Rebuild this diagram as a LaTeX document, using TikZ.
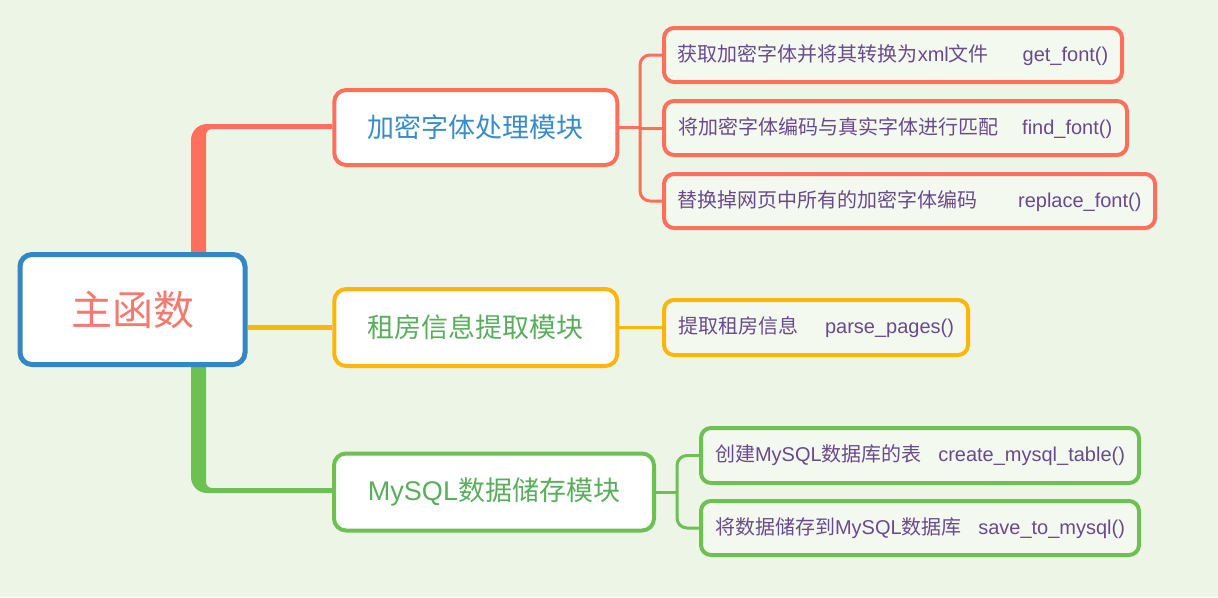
\documentclass[tikz,border=0pt]{standalone}
\usepackage{fontspec}
\setmainfont{Liberation Sans}
\newfontfamily\cjk{Noto Sans CJK SC}
\usetikzlibrary{calc}
\definecolor{bg}{HTML}{EDF5E7}
\definecolor{cRed}{HTML}{FF6F5C}
\definecolor{cBlue}{HTML}{3486C4}
\definecolor{cOrange}{HTML}{FFB50A}
\definecolor{cGreen}{HTML}{6CC152}
\definecolor{tBlue}{HTML}{3A8CC8}
\definecolor{tGreen}{HTML}{5BAD5E}
\definecolor{tRoot}{HTML}{F47A70}
\definecolor{tPurple}{HTML}{6A4A8E}
\definecolor{leafbg}{HTML}{F4F9EF}
\pgfdeclarelayer{back}
\pgfdeclarelayer{edges}
\pgfsetlayers{back,edges,main}
\begin{document}
\begin{tikzpicture}[x=1pt,y=-1pt,
  box/.style={draw, rounded corners=12pt, fill=white, line width=4pt, inner sep=0pt},
  rootbox/.style={box, draw=cBlue, line width=5pt, font=\cjk\fontsize{41}{41}\selectfont, text=tRoot},
  midbox/.style={box, font=\fontsize{27}{27}\selectfont},
  leaf/.style={draw, rounded corners=10pt, fill=leafbg, line width=4pt, inner sep=0pt, font=\fontsize{20}{20}\selectfont, text=tPurple},
  redleaf/.style={leaf, draw=cRed},
  orangeleaf/.style={leaf, draw=cOrange},
  greenleaf/.style={leaf, draw=cGreen},
  thin/.style={line width=3pt},
]
\useasboundingbox (0,0) rectangle (1218,597);
\begin{pgfonlayer}{back}
\fill[bg] (0,0) rectangle (1218,597);
\end{pgfonlayer}

% root
\node[rootbox, minimum width=225pt, minimum height=110pt] (root) at (132.5,309.5) {主函数};

% level 1
\node[midbox, draw=cRed, text=tBlue, minimum width=283pt, minimum height=75pt] (a) at (475.75,127.5) {\cjk 加密字体处理模块};
\node[midbox, draw=cOrange, text=tGreen, minimum width=283pt, minimum height=77pt] (b) at (475.75,327.5) {\cjk 租房信息提取模块};
\node[midbox, draw=cGreen, text=tGreen, minimum width=320pt, minimum height=77pt] (c) at (494,492) {MySQL{\cjk 数据储存模块}};

% leaves
\node[redleaf, minimum width=458pt, minimum height=54pt] (l1) at (893,55) {\makebox[430.5pt]{{\cjk 获取加密字体并将其转换为}xml{\cjk 文件}\hfill get\_font()}};
\node[redleaf, minimum width=463pt, minimum height=54pt] (l2) at (895.5,128) {\makebox[433.5pt]{{\cjk 将加密字体编码与真实字体进行匹配}\hfill find\_font()}};
\node[redleaf, minimum width=491pt, minimum height=54pt] (l3) at (909.5,201) {\makebox[464pt]{{\cjk 替换掉网页中所有的加密字体编码}\hfill replace\_font()}};
\node[orangeleaf, minimum width=304pt, minimum height=55pt] (l4) at (816,327.5) {\makebox[276pt]{{\cjk 提取租房信息}\hfill parse\_pages()}};
\node[greenleaf, minimum width=438pt, minimum height=55pt] (l5) at (920,455.5) {\makebox[410pt]{{\cjk 创建}MySQL{\cjk 数据库的表}\hfill create\_mysql\_table()}};
\node[greenleaf, minimum width=438pt, minimum height=54pt] (l6) at (920,528) {\makebox[410pt]{{\cjk 将数据储存到}MySQL{\cjk 数据库}\hfill save\_to\_mysql()}};

\coordinate (ja) at (640,127.5);
\coordinate (jc) at (677,492);

\begin{pgfonlayer}{edges}
% root -> a (tapered branch)
\fill[cRed] ([xshift=58.5pt]root.north) -- (191,140) .. controls (191,131.2) and (198.2,124) .. (207,124)
  -- (a.west |- 0,124) -- (a.west |- 0,129) -- (212,129) .. controls (208.7,129) and (206,131.7) .. (206,135)
  -- ([xshift=73.5pt]root.north) -- cycle;
% root -> c
\fill[cGreen] ([xshift=58.5pt]root.south) -- (191,477) .. controls (191,485.8) and (198.2,493) .. (207,493)
  -- (c.west |- 0,493) -- (c.west |- 0,488) -- (212,488) .. controls (208.7,488) and (206,485.3) .. (206,482)
  -- ([xshift=73.5pt]root.south) -- cycle;
% root -> b
\draw[cOrange, line width=5pt] (root.east |- b.west) -- (b.west);

% a -> leaves
\draw[cRed, thin] (a.east) -- (ja);
\draw[cRed, thin, rounded corners=10pt] (l1.west) -| (ja) |- (l3.west);
\draw[cRed, thin] (ja) -- (l2.west -| ja) -- (l2.west);
% b -> leaf
\draw[cOrange, thin] (b.east) -- (b.east -| l4.west);
% c -> leaves
\draw[cGreen, thin] (c.east) -- (jc);
\draw[cGreen, thin, rounded corners=10pt] (l5.west) -| (jc) |- (l6.west);
\end{pgfonlayer}
\end{tikzpicture}
\end{document}
